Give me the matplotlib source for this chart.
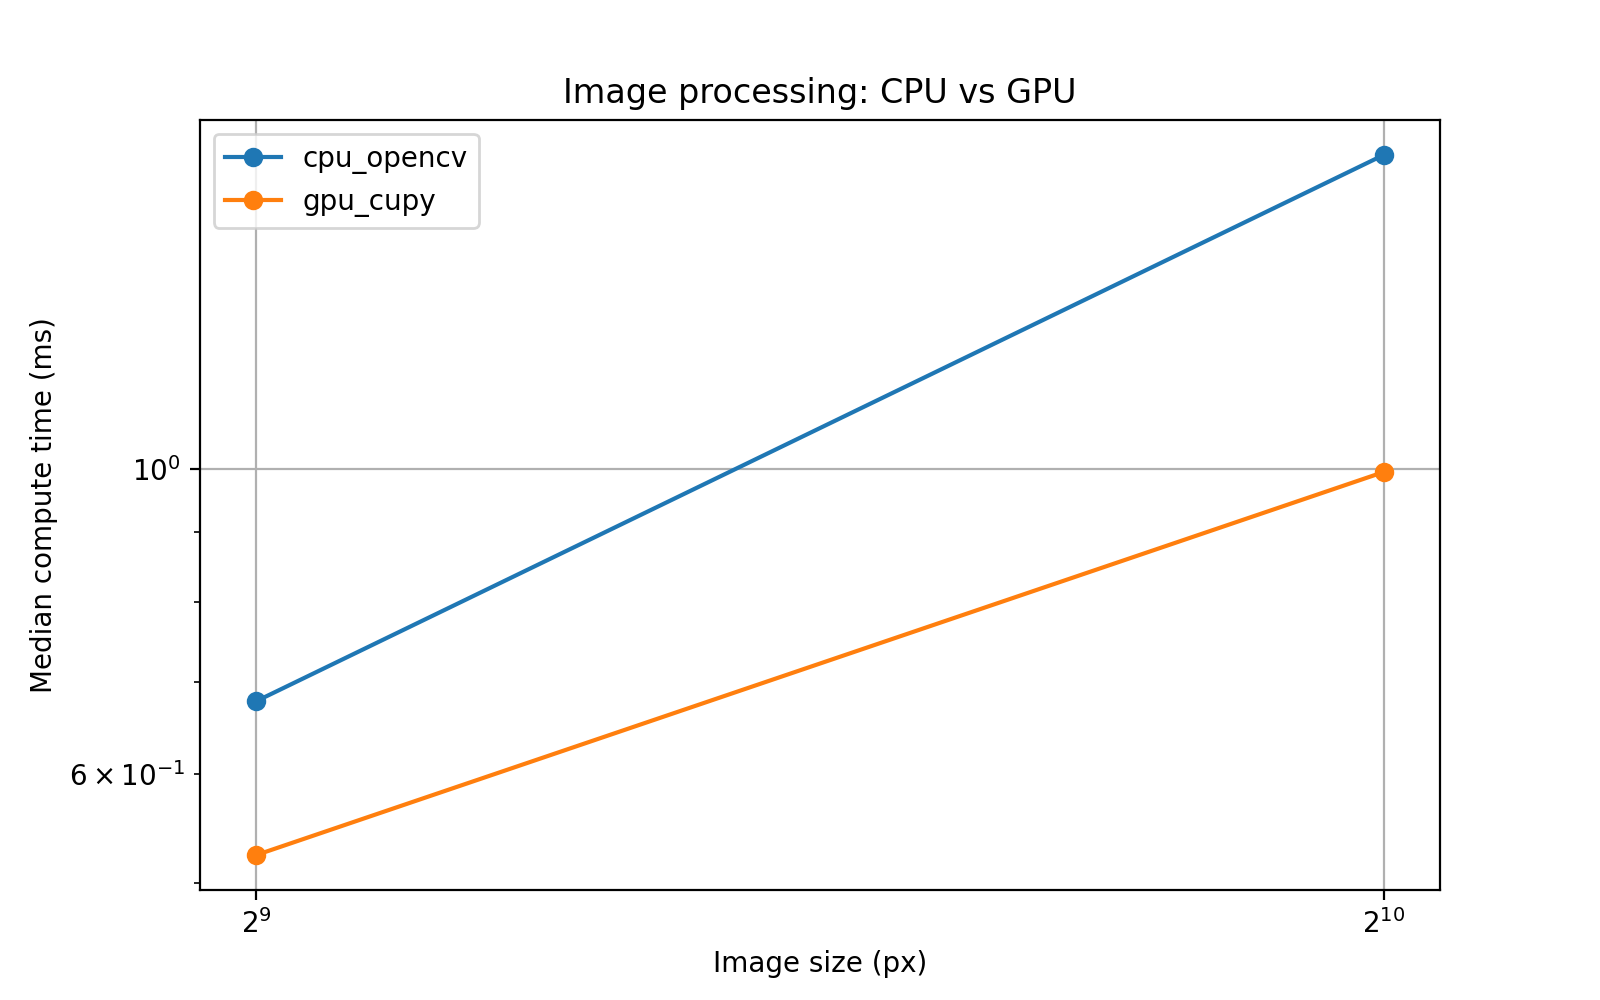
import matplotlib
matplotlib.use("Agg")
import matplotlib.pyplot as plt

# image sizes (px) and median times (ms)
sizes = [512, 1024]
cpu_opencv = [0.678, 1.692]
gpu_cupy = [0.524, 0.995]

fig = plt.figure(figsize=(8, 5), dpi=200)
plt.plot(sizes, cpu_opencv, marker='o', label='cpu_opencv')
plt.plot(sizes, gpu_cupy, marker='o', label='gpu_cupy')
plt.xscale('log', base=2)
plt.yscale('log')
plt.xlabel('Image size (px)')
plt.ylabel('Median compute time (ms)')
plt.title('Image processing: CPU vs GPU')
plt.grid(True)
plt.legend(loc='upper left')

plt.savefig('out.png')
